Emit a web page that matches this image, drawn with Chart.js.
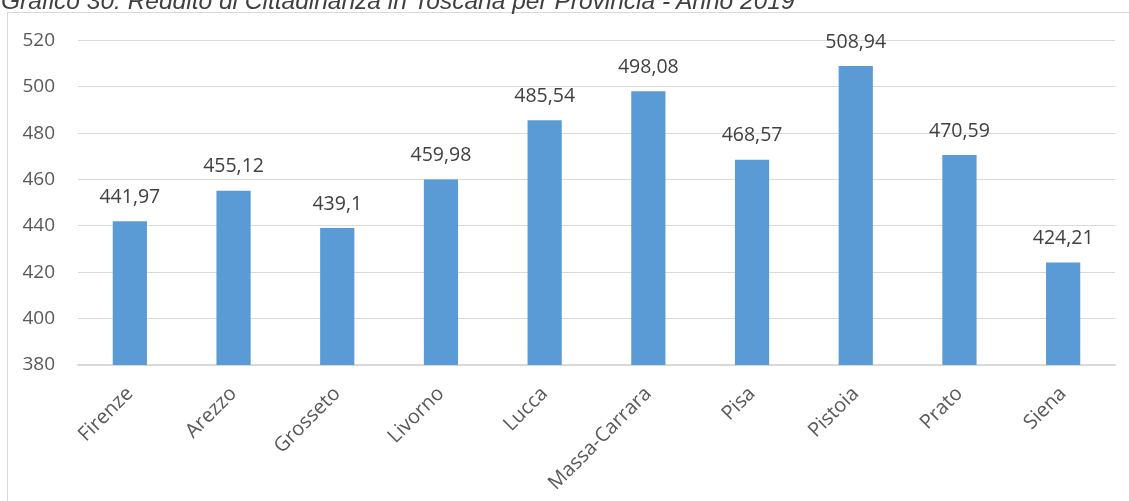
<!DOCTYPE html>
<html>
<head>
<meta charset="utf-8">
<script src="https://cdn.jsdelivr.net/npm/chart.js@4.4.1/dist/chart.umd.min.js"></script>
<style>
  html, body { margin: 0; padding: 0; background: #ffffff; width: 1129px; height: 501px; overflow: hidden; }
  #title { position: absolute; left: 1px; top: -13px; font-family: "Liberation Sans", Arial, sans-serif; font-style: italic; font-size: 24.5px; color: #404040; white-space: nowrap; z-index: 2; }
  #box { position: absolute; left: 7px; top: 12px; width: 1140px; height: 500px; border: 1px solid #d9d9d9; box-sizing: border-box; }
  #wrap { position: absolute; left: 0; top: -7px; width: 1121px; height: 495px; }
</style>
</head>
<body>
<div id="title">Grafico 30: Reddito di Cittadinanza in Toscana per Provincia - Anno 2019</div>
<div id="box"><div id="wrap"><canvas id="c" width="1121" height="495"></canvas></div></div>
<script>
const categories = ["Firenze", "Arezzo", "Grosseto", "Livorno", "Lucca", "Massa-Carrara", "Pisa", "Pistoia", "Prato", "Siena"];
const values = [441.97, 455.12, 439.1, 459.98, 485.54, 498.08, 468.57, 508.94, 470.59, 424.21];
const yMin = 380, yMax = 520, yStep = 20;

const FONT = '"Open Sans", "Liberation Sans", sans-serif';

const dataLabels = {
  id: 'dataLabels',
  afterDatasetsDraw(chart) {
    const ctx = chart.ctx;
    const meta = chart.getDatasetMeta(0);
    ctx.save();
    ctx.font = '19.5px ' + FONT;
    ctx.fillStyle = '#404040';
    ctx.textAlign = 'center';
    ctx.textBaseline = 'middle';
    meta.data.forEach((bar, i) => {
      const txt = String(values[i]).replace('.', ',');
      ctx.fillText(txt, bar.x, bar.y - 24);
    });
    ctx.restore();
  }
};

new Chart(document.getElementById('c'), {
  type: 'bar',
  data: {
    labels: categories,
    datasets: [{
      data: values,
      backgroundColor: '#5b9bd5',
      borderWidth: 0,
      categoryPercentage: 1.0,
      barPercentage: 0.33
    }]
  },
  options: {
    responsive: false,
    animation: false,
    devicePixelRatio: 1,
    layout: { padding: { left: 0, top: 20, right: 14, bottom: 0 } },
    plugins: { legend: { display: false }, tooltip: { enabled: false } },
    scales: {
      y: {
        min: yMin, max: yMax,
        ticks: { stepSize: yStep, color: '#595959', font: { family: FONT, size: 19 }, padding: 23 },
        grid: { color: '#d9d9d9', lineWidth: 1, drawTicks: false },
        border: { display: false },
        afterFit(scale) { scale.width = 70; }
      },
      x: {
        ticks: { color: '#595959', font: { family: FONT, size: 20 }, minRotation: 45, maxRotation: 45, autoSkip: false, padding: 17 },
        grid: { display: false, drawTicks: false },
        border: { display: true, color: '#d9d9d9', width: 1.5 },
        afterFit(scale) { scale.height = 136; }
      }
    }
  },
  plugins: [dataLabels]
});
</script>
</body>
</html>
